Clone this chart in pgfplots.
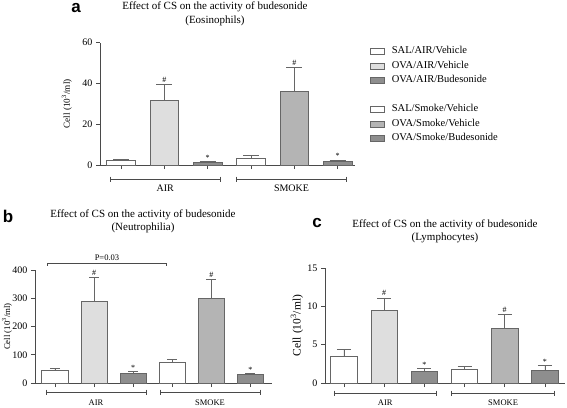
\documentclass[border=0pt]{standalone}
\usepackage{pgfplots}
\pgfplotsset{compat=1.18}
\usepackage{fontspec}
\setmainfont{Liberation Serif}
\newfontfamily\lettfont{Liberation Sans}
\definecolor{cl}{HTML}{DEDEDE}
\definecolor{cm}{HTML}{B4B4B4}
\definecolor{cd}{HTML}{8E8E8E}
\definecolor{edge}{HTML}{666666}
\definecolor{axc}{HTML}{4A4A4A}
\pgfplotsset{
 panel/.style={
   scale only axis, axis lines*=left, ymin=0, xtick={0,1,2,3,4,5}, xticklabels={},
   tick align=outside, major tick length=4pt,
   axis line style={axc, line width=0.6pt},
   every tick/.style={axc, line width=0.6pt},
   /pgf/number format/assume math mode=true,
   ybar, bar shift=0pt, clip=false,
   error bars/y dir=plus, error bars/y explicit,
   error bars/error bar style={edge, line width=0.7pt},
 },
 bs/.style={draw=edge, line width=0.6pt, fill=#1},
}
\newcommand\grp[6]{%
  \draw[axc, line width=0.6pt] ([yshift=#3]axis cs:#1,0) -- ([yshift=#3]axis cs:#2,0);
  \draw[axc, line width=0.6pt] ([yshift=#3+2.5pt]axis cs:#1,0) -- ([yshift=#3-2.5pt]axis cs:#1,0);
  \draw[axc, line width=0.6pt] ([yshift=#3+2.5pt]axis cs:#2,0) -- ([yshift=#3-2.5pt]axis cs:#2,0);
  \node[font=#6, anchor=center, inner sep=0pt] at ([yshift=#4]axis cs:{(#1+#2)/2},0) {#5};
}
\newcommand\ann[4]{\node[font=\fontsize{8}{8}\selectfont, anchor=south, inner sep=0pt, yshift=#4] at (axis cs:#1,#2) {#3};}
\newcommand\lf{\fontsize{10.5}{12}\selectfont}
\begin{document}
\begin{tikzpicture}[x=1pt,y=1pt]
\useasboundingbox (0,0) rectangle (567,-407);
% letters
\node[font=\lettfont\bfseries\fontsize{17}{17}\selectfont, anchor=base] at (76,-12) {a};
\node[font=\lettfont\bfseries\fontsize{17}{17}\selectfont, anchor=base] at (8,-222) {b};
\node[font=\lettfont\bfseries\fontsize{17}{17}\selectfont, anchor=base] at (317,-227) {c};
% titles
\node[font=\fontsize{11}{14}\selectfont, align=center] at (215,-14) {Effect of CS on the activity of budesonide\\(Eosinophils)};
\node[font=\fontsize{11}{13}\selectfont, align=center] at (143,-221.5) {Effect of CS on the activity of budesonide\\(Neutrophilia)};
\node[font=\fontsize{11}{13}\selectfont, align=center] at (445,-231.5) {Effect of CS on the activity of budesonide\\(Lymphocytes)};

% ---------- panel a
\begin{axis}[panel, at={(100pt,-165pt)}, anchor=south west,
  width=255pt, height=122.3pt, xmin=-0.485, xmax=5.4, ymax=60,
  ytick={0,20,40,60}, bar width=28.6pt,
  ticklabel style={font=\fontsize{10}{10}\selectfont},
  ylabel={Cell (10\textsuperscript{3}/ml)},
  ylabel style={font=\fontsize{9.2}{9.2}\selectfont, at={(axis description cs:-0.13,0.5)}, anchor=center},
  error bars/error mark options={rotate=90, edge, line width=0.7pt, mark size=8pt},
  legend style={at={(1.06,0.965)}, anchor=north west, draw=none, fill=none,
     font=\lf, inner sep=0pt, outer sep=0pt,
     row sep=5.5pt, column sep=7pt,
     nodes={inner sep=0pt, text height=7pt, text depth=2pt, font=\lf}},
  legend cell align=left,
  legend image code/.code={\draw[#1, bar shift=0pt] (0pt,-3pt) rectangle (14pt,3pt);},
]
\addplot[bs=white] coordinates {(0,2.3) +- (0,0.4)};
\addlegendentry{\lf SAL/AIR/Vehicle}
\addplot[bs=cl] coordinates {(1,31.6) +- (0,7.9)};
\addlegendentry{\lf OVA/AIR/Vehicle}
\addplot[bs=cd] coordinates {(2,1.3) +- (0,0.4)};
\addlegendentry{\lf OVA/AIR/Budesonide}
\addlegendimage{empty legend}
\addlegendentry{}
\addplot[bs=white] coordinates {(3,3.5) +- (0,1.1)};
\addlegendentry{\lf SAL/Smoke/Vehicle}
\addplot[bs=cm] coordinates {(4,36.1) +- (0,11.7)};
\addlegendentry{\lf OVA/Smoke/Vehicle}
\addplot[bs=cd] coordinates {(5,1.9) +- (0,0.5)};
\addlegendentry{\lf OVA/Smoke/Budesonide}
\ann{1}{39.5}{\#}{2pt}
\ann{4}{47.8}{\#}{2pt}
\ann{2}{1.7}{*}{1pt}
\ann{5}{2.4}{*}{1pt}
\grp{-0.25}{2.29}{-14pt}{-23pt}{AIR}{\fontsize{10}{10}\selectfont}
\grp{2.67}{5.2}{-14pt}{-23pt}{SMOKE}{\fontsize{10}{10}\selectfont}
\end{axis}

% ---------- panel b
\begin{axis}[panel, at={(35pt,-383pt)}, anchor=south west,
  width=237pt, height=113pt, xmin=-0.51, xmax=5.55, ymax=400,
  ytick={0,100,200,300,400}, bar width=26.5pt,
  ticklabel style={font=\fontsize{10}{10}\selectfont},
  ylabel={Cell (10\textsuperscript{3}/ml)},
  ylabel style={font=\fontsize{8.8}{8.8}\selectfont, at={(axis description cs:-0.118,0.5)}, anchor=center},
  error bars/error mark options={rotate=90, edge, line width=0.7pt, mark size=5pt},
]
\addplot[bs=white] coordinates {(0,46) +- (0,5)};
\addplot[bs=cl] coordinates {(1,288) +- (0,86)};
\addplot[bs=cd] coordinates {(2,34) +- (0,7)};
\addplot[bs=white] coordinates {(3,75) +- (0,9)};
\addplot[bs=cm] coordinates {(4,299) +- (0,67)};
\addplot[bs=cd] coordinates {(5,31) +- (0,2.5)};
\ann{1}{374}{\#}{2pt}
\ann{4}{366}{\#}{2pt}
\ann{2}{41}{*}{1pt}
\ann{5}{34}{*}{1pt}
\grp{-0.23}{2.33}{-9pt}{-20pt}{AIR}{\fontsize{8.5}{8.5}\selectfont}
\grp{2.69}{5.24}{-9pt}{-20pt}{SMOKE}{\fontsize{8.5}{8.5}\selectfont}
\draw[axc, line width=0.6pt] ([yshift=-3pt]axis cs:-0.2,425) -- (axis cs:-0.2,425) -- (axis cs:2.86,425) -- ([yshift=-3pt]axis cs:2.86,425);
\node[font=\fontsize{8.5}{8.5}\selectfont, anchor=south, inner sep=0pt, yshift=2pt] at (axis cs:1.33,425) {P=0.03};
\end{axis}

% ---------- panel c
\begin{axis}[panel, at={(325pt,-383pt)}, anchor=south west,
  width=240pt, height=115pt, xmin=-0.47, xmax=5.5, ymax=15,
  ytick={0,5,10,15}, bar width=26.5pt,
  ticklabel style={font=\fontsize{10}{10}\selectfont},
  ylabel={Cell (10\textsuperscript{3}/ml)},
  ylabel style={font=\fontsize{11.5}{11.5}\selectfont, at={(axis description cs:-0.117,0.5)}, anchor=center},
  error bars/error mark options={rotate=90, edge, line width=0.7pt, mark size=7pt},
]
\addplot[bs=white] coordinates {(0,3.5) +- (0,0.9)};
\addplot[bs=cl] coordinates {(1,9.5) +- (0,1.6)};
\addplot[bs=cd] coordinates {(2,1.57) +- (0,0.3)};
\addplot[bs=white] coordinates {(3,1.79) +- (0,0.34)};
\addplot[bs=cm] coordinates {(4,7.2) +- (0,1.7)};
\addplot[bs=cd] coordinates {(5,1.6) +- (0,0.66)};
\ann{1}{11.1}{\#}{2pt}
\ann{4}{8.9}{\#}{2pt}
\ann{2}{1.87}{*}{1pt}
\ann{5}{2.26}{*}{1pt}
\grp{-0.25}{2.31}{-10pt}{-20pt}{AIR}{\fontsize{8.5}{8.5}\selectfont}
\grp{2.68}{5.24}{-10pt}{-20pt}{SMOKE}{\fontsize{8.5}{8.5}\selectfont}
\end{axis}
\end{tikzpicture}
\end{document}
